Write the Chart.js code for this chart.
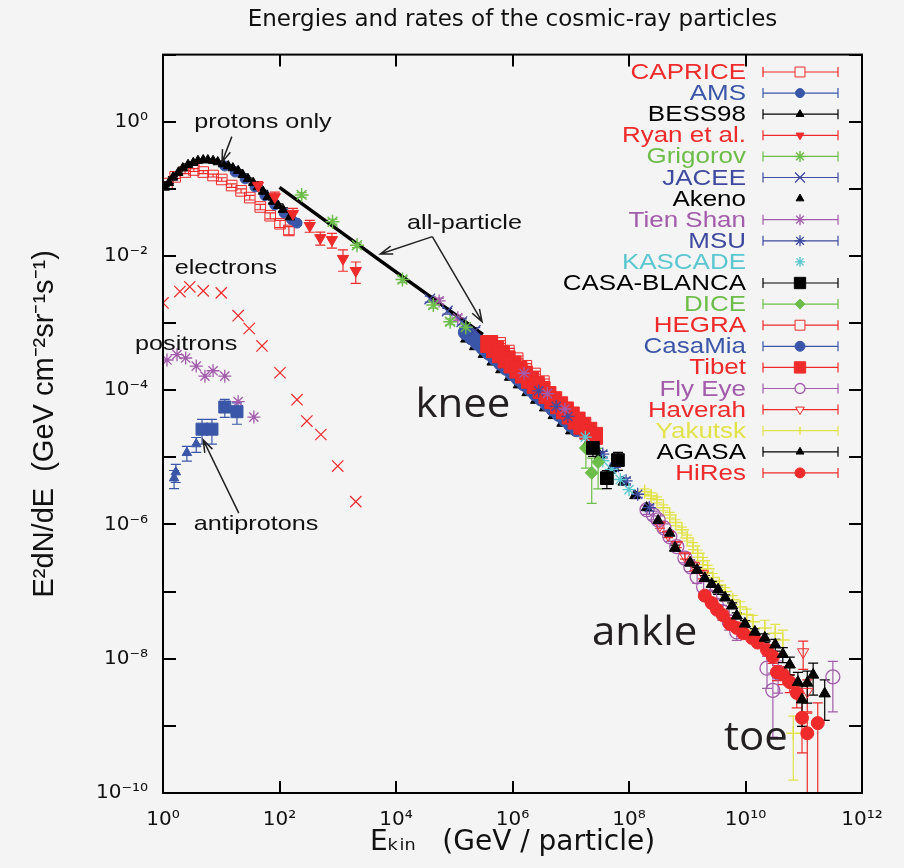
<!DOCTYPE html>
<html>
<head>
<meta charset="utf-8">
<title>Energies and rates of the cosmic-ray particles</title>
<script src="https://cdn.jsdelivr.net/npm/chart.js@4.4.1/dist/chart.umd.min.js"></script>
<style>
  html, body { margin: 0; padding: 0; background: #f4f4f4; }
  canvas { display: block; }
</style>
</head>
<body>
<canvas id="crChart" width="904" height="868"></canvas>
<script>
// Axis ticks
const xTickValues = [1, 1e2, 1e4, 1e6, 1e8, 1e10, 1e12];
const yTickValues = [1e-10, 1e-9, 1e-8, 1e-7, 1e-6, 1e-5, 1e-4, 1e-3, 1e-2, 1e-1, 1, 10];

// Low energy: protons
const capriceE = [1.17, 1.62, 2.40, 3.39, 4.90, 7.24, 10.2, 15.1, 21.9, 30.9, 46.8, 69.2, 102, 145];
const capriceF = [0.120, 0.151, 0.178, 0.191, 0.178, 0.158, 0.138, 0.112, 0.0933, 0.0741, 0.0537, 0.0398, 0.0302, 0.0240];
const capriceErr = [0.05, 0.05, 0.05, 0.05, 0.05, 0.05, 0.06, 0.06, 0.07, 0.08, 0.09, 0.1, 0.12, 0.14];

const amsE = [11.5, 17.4, 25.7, 38.0, 56.2, 83.2, 120, 162, 200];
const amsF = [0.219, 0.178, 0.141, 0.107, 0.0794, 0.0575, 0.0437, 0.0347, 0.0309];
const amsErr = [0.03, 0.03, 0.03, 0.03, 0.04, 0.04, 0.05, 0.05, 0.06];

const bessE = [1.07, 1.26, 1.48, 1.82, 2.19, 2.69, 3.31, 3.98, 4.90, 5.89, 7.24, 8.71, 10.7, 13.2, 15.8, 19.5, 23.4, 28.8, 35.5, 42.7, 52.5, 63.1, 77.6, 95.5, 115, 151];
const bessF = [0.105, 0.123, 0.148, 0.174, 0.204, 0.229, 0.245, 0.263, 0.269, 0.269, 0.263, 0.251, 0.234, 0.219, 0.204, 0.186, 0.162, 0.141, 0.123, 0.107, 0.0912, 0.0759, 0.0646, 0.0562, 0.0490, 0.0380];
const bessErr = [0.03, 0.03, 0.03, 0.03, 0.03, 0.03, 0.03, 0.03, 0.03, 0.03, 0.03, 0.03, 0.03, 0.03, 0.03, 0.03, 0.03, 0.03, 0.04, 0.04, 0.04, 0.05, 0.05, 0.06, 0.06, 0.08];

const ryanE = [42.7, 83.2, 170, 331, 501, 794, 1230, 2040];
const ryanF = [0.112, 0.0759, 0.0427, 0.0282, 0.0186, 0.0174, 0.00912, 0.00603];
const ryanErr = [0.15, 0.18, 0.2, 0.2, 0.22, 0.25, 0.35, 0.35];

// Direct measurements
const grigorovE = [240, 813, 2140, 1.29e4, 4.37e4, 8.51e4, 1.58e5];
const grigorovF = [0.0813, 0.0324, 0.0145, 0.00447, 0.00186, 0.00105, 8.71e-4];
const grigorovErr = [0.08, 0.08, 0.08, 0.1, 0.1, 0.1, 0.1];

const jaceeE = [3.80e4, 7.59e4, 1.35e5, 2.29e5];
const jaceeF = [2.29e-3, 1.51e-3, 1.05e-3, 7.76e-4];
const jaceeErr = [0.1, 0.1, 0.1, 0.1];

const tienShanE = [5.50e4, 1.15e5, 1.58e6, 3.98e6, 7.94e6];
const tienShanF = [2.14e-3, 1.20e-3, 1.79e-4, 8.91e-5, 5.25e-5];
const tienShanErr = [0.1, 0.1, 0.1, 0.1, 0.1];

const msuE = [2.82e6, 5.62e6, 8.91e6, 3.55e7, 5.62e7, 8.91e7, 1.41e8, 2.24e8];
const msuF = [9.77e-5, 5.75e-5, 4.07e-5, 1.12e-5, 7.08e-6, 4.47e-6, 2.82e-6, 1.78e-6];
const msuErr = [0.1, 0.1, 0.1, 0.1, 0.1, 0.1, 0.1, 0.1];

// Air showers: knee region
const kascadeE = [1.78e7, 2.51e7, 3.55e7, 5.01e7, 7.08e7, 1.0e8];
const kascadeF = [2.0e-5, 1.41e-5, 8.91e-6, 6.61e-6, 4.68e-6, 3.31e-6];

const casaBlancaE = [2.40e7, 4.17e7, 6.46e7];
const casaBlancaF = [1.38e-5, 4.90e-6, 9.12e-6];
const casaBlancaErr = [0.25, 0.3, 0.3];

const diceE = [1.82e7, 2.29e7, 2.95e7];
const diceF = [1.38e-5, 5.89e-6, 8.51e-6];
const diceErr = [0.5, 0.65, 0.6];

const hegraE = [6.31e5, 8.91e5, 1.26e6, 1.78e6, 2.51e6, 3.55e6];
const hegraF = [5.20e-4, 4.00e-4, 3.08e-4, 2.37e-4, 1.82e-4, 1.40e-4];
const hegraErr = [0.05, 0.05, 0.05, 0.05, 0.05, 0.05];

const casaMiaE = [1.58e5, 2.0e5, 2.51e5, 3.16e5, 3.98e5, 5.01e5, 6.31e5, 7.94e5, 1.0e6, 1.26e6, 1.58e6, 2.0e6, 2.51e6, 3.16e6, 3.98e6, 5.01e6, 6.31e6, 7.94e6, 1.0e7, 1.26e7];
const casaMiaF = [7.28e-4, 6.11e-4, 5.13e-4, 4.31e-4, 3.61e-4, 3.03e-4, 2.55e-4, 2.14e-4, 1.79e-4, 1.51e-4, 1.26e-4, 1.06e-4, 8.91e-5, 7.48e-5, 6.28e-5, 5.27e-5, 4.43e-5, 3.72e-5, 3.12e-5, 2.62e-5];
const casaMiaErr = [0.05, 0.05, 0.05, 0.05, 0.05, 0.05, 0.05, 0.05, 0.05, 0.05, 0.05, 0.05, 0.05, 0.05, 0.05, 0.05, 0.05, 0.05, 0.05, 0.05];

const tibetE = [3.98e5, 5.01e5, 6.31e5, 7.94e5, 1.0e6, 1.26e6, 1.58e6, 2.0e6, 2.51e6, 3.16e6, 3.98e6, 5.01e6, 6.31e6, 7.94e6, 1.0e7, 1.26e7, 1.58e7, 2.0e7, 2.51e7];
const tibetF = [4.88e-4, 4.09e-4, 3.44e-4, 2.88e-4, 2.42e-4, 2.03e-4, 1.71e-4, 1.43e-4, 1.20e-4, 1.01e-4, 8.47e-5, 7.11e-5, 5.97e-5, 5.01e-5, 4.21e-5, 3.53e-5, 2.96e-5, 2.49e-5, 2.09e-5];
const tibetErr = [0.05, 0.05, 0.05, 0.05, 0.05, 0.05, 0.05, 0.05, 0.05, 0.05, 0.05, 0.05, 0.05, 0.05, 0.05, 0.05, 0.05, 0.05, 0.05];

const akenoE = [1.58e5, 2.24e5, 3.16e5, 4.47e5, 6.31e5, 8.91e5, 1.26e6, 1.78e6, 2.51e6, 3.55e6, 5.01e6, 7.08e6, 1.0e7, 2.0e7, 3.16e7, 5.01e7, 7.94e7, 1.26e8, 2.0e8, 3.16e8, 5.01e8];
const akenoF = [5.78e-4, 4.45e-4, 3.42e-4, 2.63e-4, 2.02e-4, 1.56e-4, 1.20e-4, 9.20e-5, 7.08e-5, 5.45e-5, 4.19e-5, 3.22e-5, 2.48e-5, 1.70e-5, 1.07e-5, 6.76e-6, 4.27e-6, 2.69e-6, 1.78e-6, 1.15e-6, 7.41e-7];

// Air showers: ankle and toe
const flyEyeE = [2.04e8, 2.63e8, 3.16e8, 3.98e8, 5.01e8, 6.61e8, 9.12e8, 1.15e9, 1.48e9, 1.91e9, 2.45e9, 3.16e9, 3.98e9, 5.25e9, 7.08e9, 2.34e10, 2.95e10, 3.63e10, 3.16e11];
const flyEyeF = [1.66e-6, 1.38e-6, 1.17e-6, 8.91e-7, 6.61e-7, 4.68e-7, 3.16e-7, 2.34e-7, 1.66e-7, 1.17e-7, 8.32e-8, 6.31e-8, 5.01e-8, 3.55e-8, 2.51e-8, 7.24e-9, 3.39e-9, 6.17e-9, 5.37e-9];
const flyEyeErr = [0.15, 0.15, 0.15, 0.15, 0.15, 0.15, 0.15, 0.15, 0.2, 0.2, 0.2, 0.2, 0.25, 0.25, 0.25, 0.5, 0.8, 0.5, 0.7];

const yakutskE = [1.86e8, 2.40e8, 3.02e8, 3.89e8, 5.01e8, 6.31e8, 8.13e8, 1.0e9, 1.26e9, 1.51e9, 1.86e9, 2.24e9, 2.75e9, 3.55e9, 4.47e9, 6.03e9, 8.13e9, 1.05e10, 1.35e10, 2.14e10, 3.24e10, 4.37e10, 6.61e10];
const yakutskF = [3.09e-6, 2.69e-6, 2.34e-6, 1.78e-6, 1.38e-6, 1.07e-6, 8.32e-7, 6.31e-7, 4.79e-7, 3.72e-7, 2.88e-7, 2.19e-7, 1.62e-7, 1.26e-7, 1.0e-7, 7.59e-8, 5.89e-8, 4.57e-8, 3.55e-8, 2.88e-8, 2.40e-8, 1.91e-8, 7.76e-10];
const yakutskErr = [0.1, 0.1, 0.1, 0.1, 0.1, 0.1, 0.1, 0.1, 0.12, 0.12, 0.12, 0.12, 0.15, 0.15, 0.15, 0.15, 0.2, 0.2, 0.25, 0.3, 0.35, 0.4, 0.8];

const agasaE = [6.17e8, 1.12e9, 1.48e9, 2.0e9, 2.63e9, 3.39e9, 4.47e9, 5.89e9, 7.08e9, 9.77e9, 1.45e10, 2.14e10, 3.24e10, 4.37e10, 5.75e10, 7.94e10, 9.33e10, 1.15e11, 1.45e11, 2.29e11];
const agasaF = [4.47e-7, 2.69e-7, 2.09e-7, 1.58e-7, 1.29e-7, 1.07e-7, 8.13e-8, 6.17e-8, 4.37e-8, 3.31e-8, 2.51e-8, 2.04e-8, 1.62e-8, 1.17e-8, 8.13e-9, 4.47e-9, 2.45e-9, 4.37e-9, 5.75e-9, 3.02e-9];
const agasaErr = [0.1, 0.1, 0.1, 0.1, 0.1, 0.15, 0.1, 0.1, 0.1, 0.12, 0.12, 0.15, 0.2, 0.25, 0.3, 0.4, 0.6, 0.5, 0.5, 0.6];

const hiResE = [2.0e9, 2.63e9, 3.24e9, 4.07e9, 5.37e9, 7.08e9, 9.12e9, 1.29e10, 1.62e10, 2.34e10, 2.95e10, 3.47e10, 4.37e10, 5.75e10, 7.59e10, 9.33e10, 1.15e11, 1.74e11];
const hiResF = [8.71e-8, 6.76e-8, 5.37e-8, 4.47e-8, 3.31e-8, 2.88e-8, 2.40e-8, 2.04e-8, 1.74e-8, 1.35e-8, 1.07e-8, 6.31e-9, 5.89e-9, 4.47e-9, 3.09e-9, 1.32e-9, 7.76e-10, 1.10e-9];
const hiResErr = [0.1, 0.1, 0.1, 0.1, 0.1, 0.1, 0.1, 0.12, 0.12, 0.15, 0.2, 0.25, 0.3, 0.3, 0.4, 0.7, 1.0, 1.0];

const haverahE = [3.39e8, 4.68e8, 6.61e8, 9.12e8, 1.32e9, 1.86e9, 9.77e10, 1.15e11];
const haverahF = [9.77e-7, 7.08e-7, 5.01e-7, 3.39e-7, 2.40e-7, 1.82e-7, 1.26e-8, 3.24e-9];
const haverahErr = [0.1, 0.1, 0.1, 0.1, 0.15, 0.15, 0.45, 0.5];

// Other particles
const electronE = [1.0, 1.95, 2.88, 4.90, 10.0, 19.5, 30.2, 50.1, 102, 200, 295, 513, 1000, 2040];
const electronF = [2.0e-3, 2.95e-3, 3.47e-3, 3.02e-3, 2.82e-3, 1.29e-3, 8.32e-4, 4.57e-4, 1.82e-4, 7.24e-5, 3.47e-5, 2.19e-5, 7.41e-6, 2.19e-6];

const positronE = [1.17, 1.74, 2.45, 3.72, 5.25, 7.24, 11.5, 19.5, 36.3];
const positronF = [2.82e-4, 3.39e-4, 3.02e-4, 2.29e-4, 1.62e-4, 1.95e-4, 1.62e-4, 6.76e-5, 3.98e-5];

const pbarTriE = [1.55, 1.66, 2.57, 3.72];
const pbarTriF = [4.90e-6, 6.03e-6, 1.17e-5, 1.58e-5];
const pbarTriErr = [0.3, 0.3, 0.25, 0.25];

const pbarSqE = [4.68, 6.92, 11.5, 18.6];
const pbarSqF = [2.63e-5, 2.63e-5, 5.62e-5, 4.79e-5];
const pbarSqErr = [0.4, 0.4, 0.3, 0.35];

const allParticleE = [100, 5000, 3.1e5];
const allParticleF = [0.105, 8.9e-3, 6.8e-4];

// Legend order (top to bottom)
const legendLabels = ['CAPRICE', 'AMS', 'BESS98', 'Ryan et al.', 'Grigorov', 'JACEE', 'Akeno', 'Tien Shan', 'MSU', 'KASCADE',
  'CASA-BLANCA', 'DICE', 'HEGRA', 'CasaMia', 'Tibet', 'Fly Eye', 'Haverah', 'Yakutsk', 'AGASA', 'HiRes'];

// Colors
const RED = '#ee2a2a';
const BLUE = '#3a56a8';
const NAVY = '#3d4aa0';
const GREEN = '#6dbd4a';
const PURPLE = '#a35bab';
const CYAN = '#5ac7d0';
const YELLOW = '#e2e24a';
const BLACK = '#000000';
const BG = '#f4f4f4';

const SUP = { '0': '⁰', '1': '¹', '2': '²', '3': '³', '4': '⁴', '5': '⁵', '6': '⁶', '7': '⁷', '8': '⁸', '9': '⁹', '-': '⁻' };

function pow10Label(v) {
  const n = Math.round(Math.log10(v));
  return '10' + String(n).split('').map(c => SUP[c]).join('');
}

// Build one scatter dataset
function makeSet(label, E, F, err, st) {
  return {
    label: label,
    data: E.map((e, i) => ({ x: e, y: F[i] })),
    errors: err,
    pointStyle: st.shape,
    pointRotation: st.rot || 0,
    pointRadius: st.r,
    pointHoverRadius: st.r,
    pointBorderWidth: st.bw || 1,
    borderColor: st.color,
    backgroundColor: st.open ? 'rgba(0,0,0,0)' : st.color,
    open: !!st.open,
    legendR: st.lr || st.r,
    showLine: false
  };
}

// Datasets, listed top-most first (Chart.js draws the first one last)
const datasets = [
  makeSet('antiprotons-sq', pbarSqE, pbarSqF, pbarSqErr, { shape: 'rect', r: 8.5, color: BLUE }),
  makeSet('antiprotons-tri', pbarTriE, pbarTriF, pbarTriErr, { shape: 'triangle', r: 5.5, color: BLUE }),
  makeSet('positrons', positronE, positronF, null, { shape: 'star', r: 6.5, color: PURPLE, bw: 1.3 }),
  makeSet('electrons', electronE, electronF, null, { shape: 'crossRot', r: 8, color: RED, bw: 1.2 }),
  makeSet('Ryan et al.', ryanE, ryanF, ryanErr, { shape: 'triangle', rot: 180, r: 6.5, color: RED, lr: 4.5 }),
  makeSet('BESS98', bessE, bessF, bessErr, { shape: 'triangle', r: 5.5, color: BLACK, lr: 4.5 }),
  makeSet('AMS', amsE, amsF, amsErr, { shape: 'circle', r: 5, color: BLUE, lr: 4.5 }),
  makeSet('CAPRICE', capriceE, capriceF, capriceErr, { shape: 'rect', r: 7.5, color: RED, open: true, lr: 7 }),
  makeSet('Grigorov', grigorovE, grigorovF, grigorovErr, { shape: 'star', r: 7, color: GREEN, bw: 1.5, lr: 5.5 }),
  makeSet('JACEE', jaceeE, jaceeF, jaceeErr, { shape: 'crossRot', r: 7.5, color: NAVY, bw: 1.3, lr: 7 }),
  makeSet('Tien Shan', tienShanE, tienShanF, tienShanErr, { shape: 'star', r: 6.5, color: PURPLE, bw: 1.3, lr: 5.5 }),
  makeSet('CASA-BLANCA', casaBlancaE, casaBlancaF, casaBlancaErr, { shape: 'rect', r: 9, color: BLACK, lr: 8 }),
  makeSet('DICE', diceE, diceF, diceErr, { shape: 'rectRot', r: 6.5, color: GREEN, lr: 5 }),
  makeSet('KASCADE', kascadeE, kascadeF, null, { shape: 'star', r: 6.5, color: CYAN, bw: 1.3, lr: 5 }),
  makeSet('MSU', msuE, msuF, msuErr, { shape: 'star', r: 6.5, color: NAVY, bw: 1.3, lr: 5.5 }),
  makeSet('HEGRA', hegraE, hegraF, hegraErr, { shape: 'rect', r: 6.5, color: RED, open: true, lr: 7 }),
  makeSet('Tibet', tibetE, tibetF, tibetErr, { shape: 'rect', r: 12, color: RED, lr: 8 }),
  makeSet('CasaMia', casaMiaE, casaMiaF, casaMiaErr, { shape: 'circle', r: 7.5, color: BLUE, lr: 5 }),
  makeSet('Akeno', akenoE, akenoF, null, { shape: 'triangle', r: 6, color: BLACK, lr: 4.5 }),
  makeSet('AGASA', agasaE, agasaF, agasaErr, { shape: 'triangle', r: 6.5, color: BLACK, lr: 4.5 }),
  makeSet('HiRes', hiResE, hiResF, hiResErr, { shape: 'circle', r: 6.5, color: RED, lr: 5 }),
  makeSet('Haverah', haverahE, haverahF, haverahErr, { shape: 'triangle', rot: 180, r: 6.5, color: RED, open: true, lr: 5 }),
  makeSet('Fly Eye', flyEyeE, flyEyeF, flyEyeErr, { shape: 'circle', r: 7, color: PURPLE, open: true, bw: 1.3, lr: 5 }),
  makeSet('Yakutsk', yakutskE, yakutskF, yakutskErr, { shape: 'cross', r: 7, color: YELLOW, bw: 1.5, lr: 4 }),
  {
    label: 'all-particle',
    data: allParticleE.map((e, i) => ({ x: e, y: allParticleF[i] })),
    showLine: true,
    borderColor: BLACK,
    borderWidth: 3.5,
    pointRadius: 0,
    fill: false
  }
];

// Text notes, anchored in data space
const notes = [
  { text: 'protons only', x: 52, y: 1.0 },
  { text: 'all-particle', x: 1.5e5, y: 0.031 },
  { text: 'electrons', x: 12, y: 6.6e-3 },
  { text: 'positrons', x: 2.5, y: 4.9e-4 },
  { text: 'antiprotons', x: 39.5, y: 1.02e-6 }
];
const bigNotes = [
  { text: 'knee', x: 1.41e5, y: 4.0e-5 },
  { text: 'ankle', x: 1.86e8, y: 1.62e-8 },
  { text: 'toe', x: 1.51e10, y: 4.4e-10 }
];
const arrows = [
  { from: [15.2, 0.60], to: [10.3, 0.25] },
  { from: [4.2e4, 0.0194], to: [5370, 0.0107] },
  { from: [4.2e4, 0.0194], to: [3.0e5, 1.05e-3] },
  { from: [20, 1.48e-6], to: [4.9, 1.82e-5] }
];

function stretchText(ctx, text, x, y, sx) {
  ctx.save();
  ctx.translate(x, y);
  ctx.scale(sx, 1);
  ctx.fillText(text, 0, 0);
  ctx.restore();
}

// Vertical error bars under the markers
const errorBarPlugin = {
  id: 'errorBars',
  beforeDatasetsDraw(chart) {
    const { ctx, chartArea, scales: { x, y } } = chart;
    ctx.save();
    ctx.beginPath();
    ctx.rect(chartArea.left, chartArea.top, chartArea.width, chartArea.height);
    ctx.clip();
    for (let i = chart.data.datasets.length - 1; i >= 0; i--) {
      const ds = chart.data.datasets[i];
      if (!ds.errors) continue;
      ctx.strokeStyle = ds.borderColor;
      ctx.lineWidth = 1.2;
      ds.data.forEach((p, j) => {
        const e = ds.errors[j];
        if (!e) return;
        const px = x.getPixelForValue(p.x);
        const yHi = y.getPixelForValue(p.y * (1 + e));
        const lo = p.y * (1 - e);
        const yLo = lo > 0 ? y.getPixelForValue(lo) : chartArea.bottom + 4;
        ctx.beginPath();
        ctx.moveTo(px, yHi); ctx.lineTo(px, yLo);
        ctx.moveTo(px - 5, yHi); ctx.lineTo(px + 5, yHi);
        ctx.moveTo(px - 5, yLo); ctx.lineTo(px + 5, yLo);
        ctx.stroke();
      });
    }
    ctx.restore();
  }
};

// Frame with inward ticks on all sides
const framePlugin = {
  id: 'frame',
  afterDatasetsDraw(chart) {
    const { ctx, chartArea: a, scales: { x, y } } = chart;
    ctx.save();
    ctx.strokeStyle = BLACK;
    ctx.lineWidth = 2;
    ctx.strokeRect(a.left, a.top, a.right - a.left, a.bottom - a.top);
    ctx.beginPath();
    xTickValues.forEach(v => {
      const px = Math.round(x.getPixelForValue(v));
      ctx.moveTo(px, a.bottom); ctx.lineTo(px, a.bottom - 12);
      ctx.moveTo(px, a.top); ctx.lineTo(px, a.top + 12);
    });
    yTickValues.forEach(v => {
      const py = Math.round(y.getPixelForValue(v));
      ctx.moveTo(a.left, py); ctx.lineTo(a.left + 13, py);
      ctx.moveTo(a.right, py); ctx.lineTo(a.right - 13, py);
    });
    ctx.stroke();
    ctx.restore();
  }
};

function drawArrow(ctx, x1, y1, x2, y2) {
  const ang = Math.atan2(y2 - y1, x2 - x1);
  const len = 13, spread = 0.33;
  ctx.beginPath();
  ctx.moveTo(x1, y1); ctx.lineTo(x2, y2);
  ctx.moveTo(x2 - len * Math.cos(ang - spread), y2 - len * Math.sin(ang - spread));
  ctx.lineTo(x2, y2);
  ctx.lineTo(x2 - len * Math.cos(ang + spread), y2 - len * Math.sin(ang + spread));
  ctx.stroke();
}

// Notes, arrows and the legend block
const overlayPlugin = {
  id: 'overlay',
  afterDraw(chart) {
    const { ctx, scales: { x, y } } = chart;
    ctx.save();

    ctx.strokeStyle = '#222';
    ctx.lineWidth = 1.5;
    arrows.forEach(ar => {
      drawArrow(ctx, x.getPixelForValue(ar.from[0]), y.getPixelForValue(ar.from[1]),
        x.getPixelForValue(ar.to[0]), y.getPixelForValue(ar.to[1]));
    });

    ctx.fillStyle = '#111';
    ctx.font = '21px "Liberation Sans", Arial, sans-serif';
    ctx.textAlign = 'center';
    ctx.textBaseline = 'middle';
    notes.forEach(n => stretchText(ctx, n.text, x.getPixelForValue(n.x), y.getPixelForValue(n.y), 1.2));

    ctx.fillStyle = '#231f20';
    ctx.font = '40px "Open Sans", sans-serif';
    ctx.textBaseline = 'alphabetic';
    bigNotes.forEach(n => stretchText(ctx, n.text, x.getPixelForValue(n.x), y.getPixelForValue(n.y), 1.05));

    // legend
    const textRight = 746, barLeft = 763, barRight = 838, markX = 800, top = 72, step = 21.1;
    ctx.font = '22px "Liberation Sans", Arial, sans-serif';
    ctx.textAlign = 'right';
    ctx.textBaseline = 'middle';
    legendLabels.forEach((label, i) => {
      const ds = chart.data.datasets.find(d => d.label === label);
      const ry = top + i * step;
      ctx.fillStyle = ds.borderColor;
      stretchText(ctx, label, textRight, ry + 1, 1.18);
      ctx.strokeStyle = ds.borderColor;
      ctx.lineWidth = 1.2;
      if (ds.errors) {
        ctx.beginPath();
        ctx.moveTo(barLeft, ry); ctx.lineTo(barRight, ry);
        ctx.moveTo(barLeft, ry - 5); ctx.lineTo(barLeft, ry + 5);
        ctx.moveTo(barRight, ry - 5); ctx.lineTo(barRight, ry + 5);
        ctx.stroke();
      }
      ctx.fillStyle = ds.open ? BG : ds.borderColor;
      ctx.lineWidth = ds.pointBorderWidth;
      const style = label === 'Yakutsk' ? 'line' : ds.pointStyle;
      const rot = label === 'Yakutsk' ? 90 : ds.pointRotation;
      Chart.helpers.drawPoint(ctx, { pointStyle: style, rotation: rot, radius: ds.legendR, borderWidth: ds.pointBorderWidth }, markX, ry);
    });

    ctx.restore();
  }
};

Chart.defaults.font.family = '"DejaVu Sans", sans-serif';
Chart.defaults.color = '#111';

const ctx = document.getElementById('crChart').getContext('2d');
const chart = new Chart(ctx, {
  type: 'scatter',
  data: { datasets: datasets },
  options: {
    responsive: false,
    animation: false,
    events: [],
    layout: { padding: { left: 0, right: 42, top: 0, bottom: 0 } },
    plugins: {
      legend: { display: false },
      tooltip: { enabled: false },
      title: {
        display: true,
        text: 'Energies and rates of the cosmic-ray particles',
        fullSize: false,
        color: '#111',
        font: { size: 23, weight: 'normal', family: '"DejaVu Sans", sans-serif' },
        padding: { top: 6, bottom: 21 }
      }
    },
    scales: {
      x: {
        type: 'logarithmic',
        min: 1,
        max: 1e12,
        grid: { display: false, drawTicks: false },
        border: { display: false },
        afterBuildTicks: s => { s.ticks = xTickValues.map(v => ({ value: v })); },
        afterFit: s => { s.height = 75; },
        ticks: {
          autoSkip: false,
          maxRotation: 0,
          padding: 15,
          color: '#111',
          font: { size: 20 },
          callback: v => pow10Label(v)
        },
        title: {
          display: true,
          text: 'Eₖᵢₙ   (GeV / particle)',
          color: '#111',
          font: { size: 28, family: '"DejaVu Sans", sans-serif' },
          padding: { top: 0, bottom: 8 }
        }
      },
      y: {
        type: 'logarithmic',
        min: 1e-10,
        max: 10,
        grid: { display: false, drawTicks: false },
        border: { display: false },
        afterBuildTicks: s => { s.ticks = yTickValues.map(v => ({ value: v })); },
        afterFit: s => { s.width = 163; },
        ticks: {
          autoSkip: false,
          padding: 15,
          color: '#111',
          font: { size: 20 },
          callback: v => {
            const n = Math.round(Math.log10(v));
            return n % 2 === 0 ? pow10Label(v) : '';
          }
        },
        title: {
          display: true,
          text: 'E²dN/dE  (GeV cm⁻²sr⁻¹s⁻¹)',
          color: '#111',
          font: { size: 29, family: '"Liberation Sans", Arial, sans-serif' },
          padding: { top: 28, bottom: 0 }
        }
      }
    }
  },
  plugins: [errorBarPlugin, framePlugin, overlayPlugin]
});
</script>
</body>
</html>
